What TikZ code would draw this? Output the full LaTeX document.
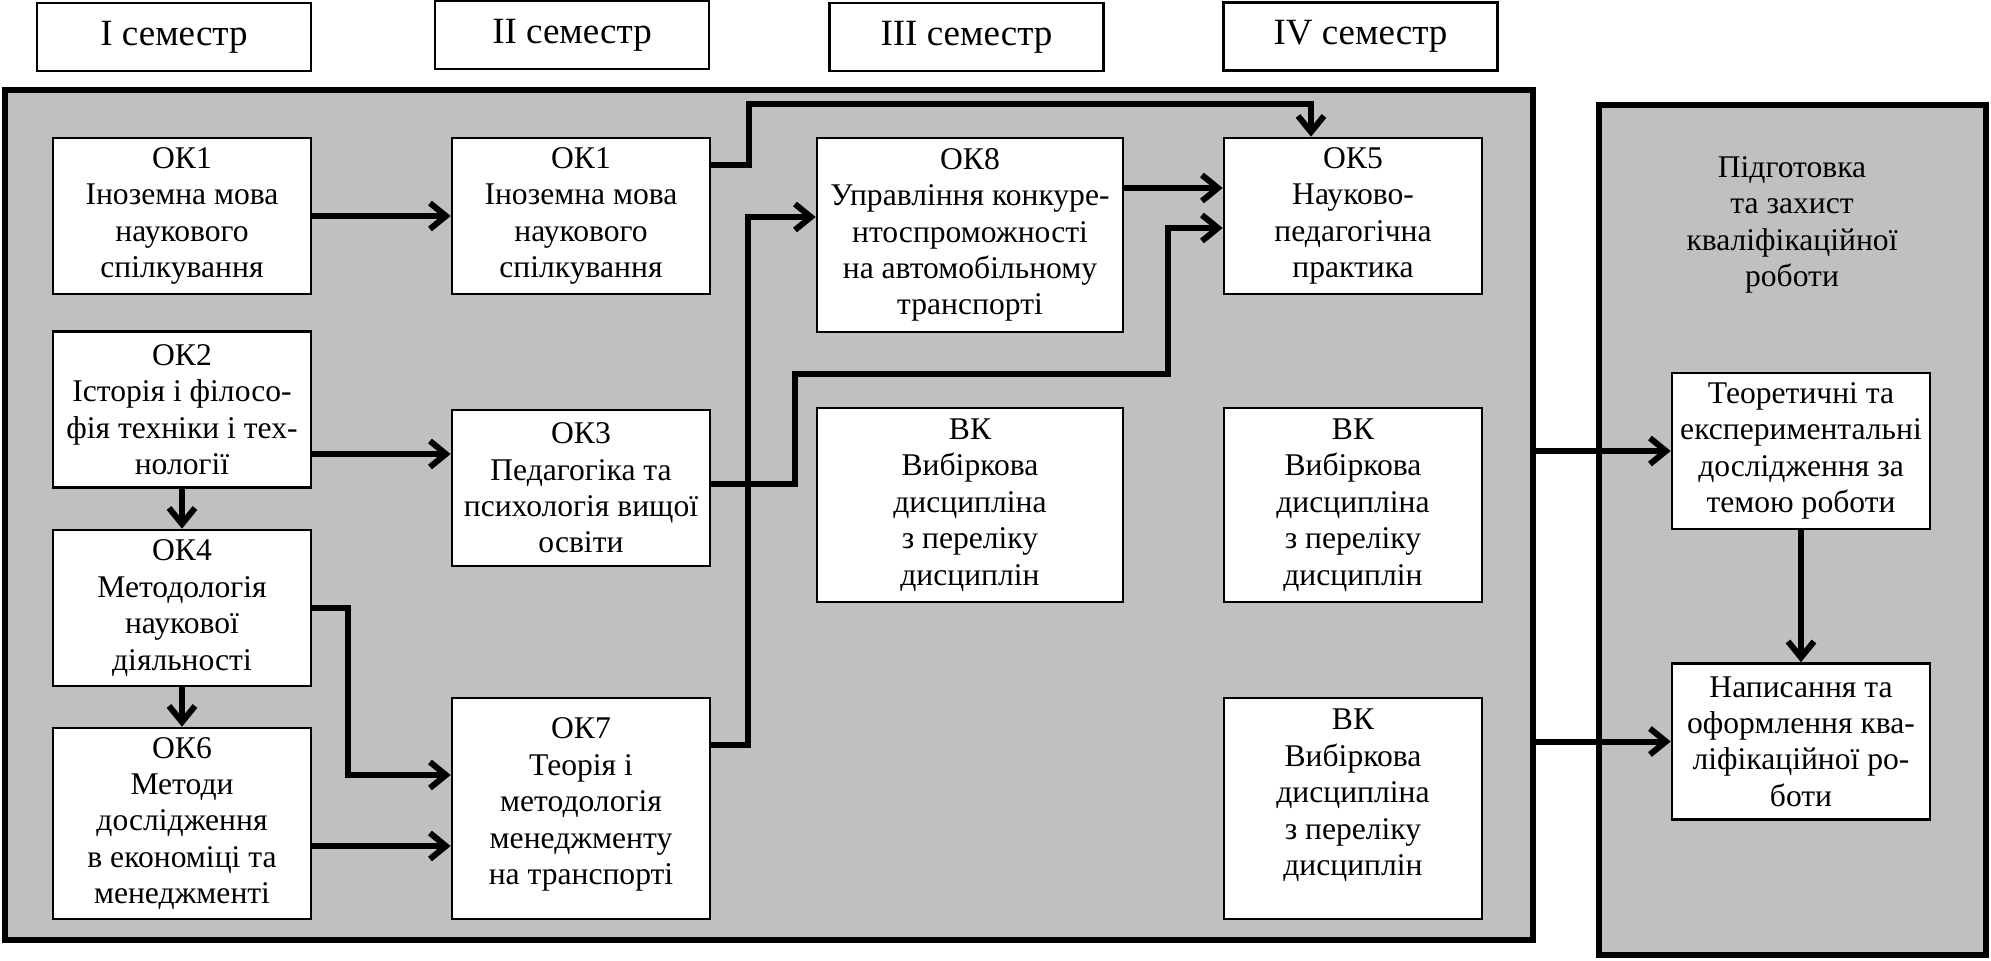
\documentclass[tikz,border=0pt]{standalone}
\usepackage{fontspec}
\setmainfont{Liberation Serif}
\usetikzlibrary{arrows.meta,calc}
\definecolor{panelgray}{RGB}{192,192,192}
\begin{document}
\begin{tikzpicture}[x=0.5pt,y=-0.5pt,
  box/.style={draw, line width=1.3pt, fill=white, align=center, inner sep=1pt,
    font=\fontsize{15.8}{18.2}\selectfont, minimum width=129pt, minimum height=78pt},
  sem/.style={draw, line width=1.3pt, fill=white, minimum width=137pt, minimum height=34pt,
    font=\fontsize{18.5}{22}\selectfont},
  panel/.style={draw, line width=3.2pt, fill=panelgray},
  conn/.style={line width=3pt, -{Straight Barb[length=8pt,width=13pt]}},
  ]
\useasboundingbox (0,0) rectangle (1991,960);

% semester headers
\node[sem] (s1) at (174,37) {I семестр};
\node[sem] (s2) at (572,35) {II семестр};
\node[sem] (s3) at (966.5,37) {III семестр};
\node[sem] (s4) at (1360.5,36.5) {IV семестр};

% panels
\node[panel, minimum width=764pt, minimum height=425pt] (P) at (769,515) {};
\node[panel, minimum width=193.5pt, minimum height=425pt] (R) at (1792.5,530) {};
\node[align=center, font=\fontsize{15.8}{18.2}\selectfont] (RT) at (1792,225)
  {Підготовка\\та захист\\кваліфікаційної\\роботи};

% column 1
\node[box] (ok1a) at (182,216) {ОК1\\Іноземна мова\\наукового\\спілкування};
\node[box] (ok2) at (182,409.5) {ОК2\\Історія і філосо-\\фія техніки і тех-\\нології};
\node[box] (ok4) at (182,608) {ОК4\\Методологія\\наукової\\діяльності};
\node[box, minimum height=95.5pt] (ok6) at (182,823.5) {ОК6\\Методи\\дослідження\\в економіці та\\менеджменті};

% column 2
\node[box] (ok1b) at (581,216) {ОК1\\Іноземна мова\\наукового\\спілкування};
\node[box] (ok3) at (581,488) {ОК3\\Педагогіка та\\психологія вищої\\освіти};
\node[box, minimum height=110.5pt] (ok7) at (581,808.5) {ОК7\\Теорія і\\методологія\\менеджменту\\на транспорті\\[-11pt]\mbox{}};

% column 3
\node[box, minimum width=153pt, minimum height=97pt] (ok8) at (970,235) {ОК8\\Управління конкуре-\\нтоспроможності\\на автомобільному\\транспорті};
\node[box, minimum width=153pt, minimum height=97pt] (bk3) at (970,505) {ВК\\Вибіркова\\дисципліна\\з переліку\\дисциплін};

% column 4
\node[box] (ok5) at (1353,216) {ОК5\\Науково-\\педагогічна\\практика};
\node[box, minimum height=97pt] (bk4a) at (1353,505) {ВК\\Вибіркова\\дисципліна\\з переліку\\дисциплін};
\node[box, minimum height=110.5pt] (bk4b) at (1353,808.5) {ВК\\Вибіркова\\дисципліна\\з переліку\\дисциплін\\[-2pt]\mbox{}};

% right panel boxes
\node[box] (t) at (1801,451) {Теоретичні та\\експериментальні\\дослідження за\\темою роботи};
\node[box] (n) at (1801,741.5) {Написання та\\оформлення ква-\\ліфікаційної ро-\\боти};

% connectors
\draw[conn] (ok1a.east) -- (ok1b.west);
\draw[conn] ([yshift=25.5pt]ok1b.east) -- ++(19pt,0) |- ([xshift=-21pt,yshift=16.5pt]ok5.north) -- ([xshift=-21pt]ok5.north);
\draw[conn] ([yshift=23.5pt]ok8.east) coordinate (a1) -- (a1 -| ok5.west);
\draw[conn] ([yshift=31.75pt]ok7.east) -- ++(18.5pt,0) |- ([yshift=9pt]ok8.west);
\coordinate (k3) at (1168,374);
\draw[conn] ([yshift=2pt]ok3.east) -- ++(42pt,0) |- (k3) |- ([yshift=-6pt]ok5.west);
\draw[conn] ([yshift=-22.25pt]ok2.east) coordinate (a2) -- (a2 -| ok3.west);
\draw[conn] (ok2.south) -- (ok4.north);
\draw[conn] (ok4.south) -- (ok6.north);
\draw[conn] (ok4.east) -- ++(18pt,0) |- ([yshift=16.75pt]ok7.west);
\draw[conn] ([yshift=-11.25pt]ok6.east) coordinate (a3) -- (a3 -| ok7.west);
\draw[conn] (P.east |- t.west) -- (t.west);
\draw[conn] (P.east |- n.west) -- (n.west);
\draw[conn] (t.south) -- (n.north);
\end{tikzpicture}
\end{document}
